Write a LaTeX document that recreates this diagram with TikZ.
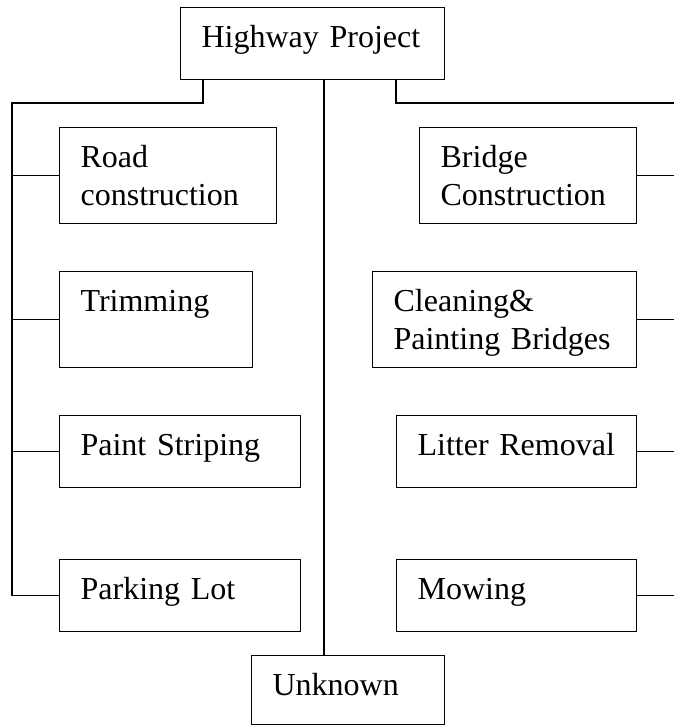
\documentclass[tikz,border=0pt]{standalone}
\usepackage{fontspec}
\setmainfont{Liberation Serif}
\usepackage{tikz}
\usetikzlibrary{positioning}
\tikzstyle{link} = [line width=0.9pt]

\begin{document}
\begin{tikzpicture}[x=0.75pt, y=-0.75pt,
taskbox/.style={draw, line width=0.9pt, anchor=north west, align=left, inner xsep=15.75pt, inner ysep=0pt, font=\fontsize{24}{28.5}\selectfont, minimum width=#1*0.75pt, text width=(#1-42)*0.75pt, text height=30pt},
tallbox/.style={text depth=42pt},
shortbox/.style={text depth=24pt},]
\useasboundingbox (0,0) rectangle (674,725);
\node[taskbox=264, shortbox] (project) at (180,7) {Highway~Project};
\node[taskbox=217, tallbox] (road) at (59,127) {Road\\construction};
\node[taskbox=193, tallbox] (trim) at (59,271) {Trimming};
\node[taskbox=241, shortbox] (paint) at (59,415) {Paint~Striping};
\node[taskbox=241, shortbox] (parking) at (59,559) {Parking~Lot};
\node[taskbox=217, tallbox] (bridge) at (419,127) {Bridge\\Construction};
\node[taskbox=264, tallbox] (clean) at (372,271) {Cleaning\&\\Painting~Bridges};
\node[taskbox=240, shortbox] (litter) at (396,415) {Litter~Removal};
\node[taskbox=240, shortbox] (mow) at (396,559) {Mowing};
\node[taskbox=193, text depth=21.75pt] (unknown) at (251,655) {Unknown};
\coordinate (ldrop) at (203,0);
\coordinate (rdrop) at (396,0);
\coordinate (lbus) at (12,103);
\coordinate (cbus) at (324,103);
\coordinate (rbus) at (674,103);
\draw[link] (project.south -| ldrop) |- (lbus) |- (parking.west);
\draw[link] (lbus |- road.west) -- (road.west);
\draw[link] (lbus |- trim.west) -- (trim.west);
\draw[link] (lbus |- paint.west) -- (paint.west);
\draw[link] (project.south -| rdrop) |- (rbus);
\draw[link] (bridge.east) -- (bridge.east -| rbus);
\draw[link] (clean.east) -- (clean.east -| rbus);
\draw[link] (litter.east) -- (litter.east -| rbus);
\draw[link] (mow.east) -- (mow.east -| rbus);
\draw[link] (project.south -| cbus) -- (unknown.north -| cbus);
\end{tikzpicture}
\end{document}
